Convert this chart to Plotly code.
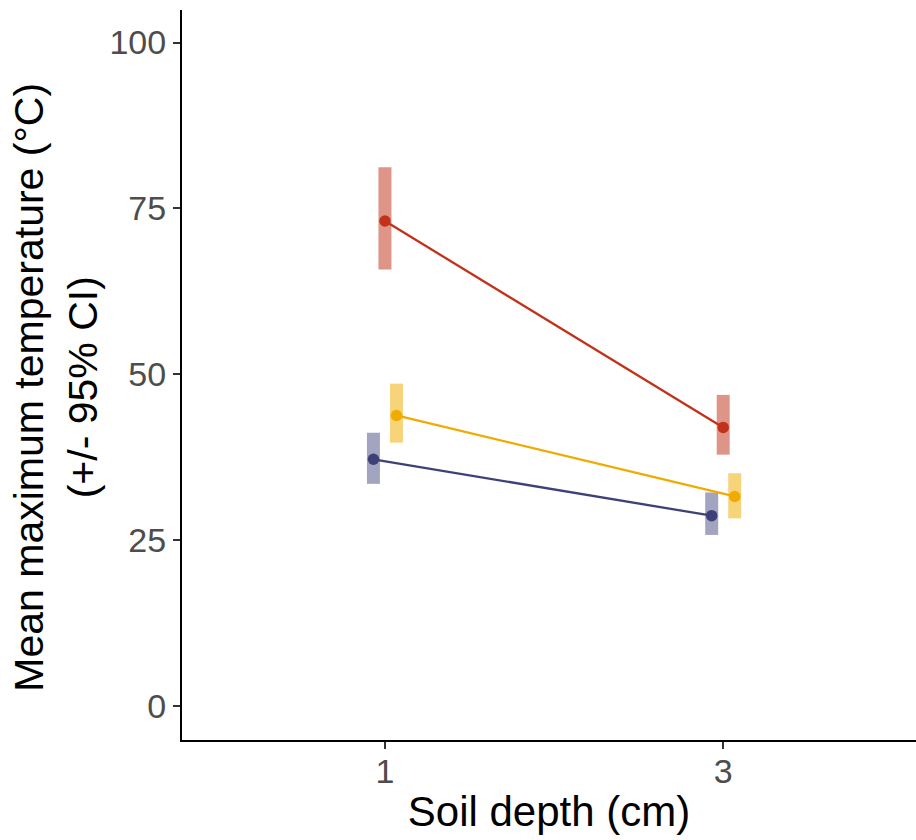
import plotly.graph_objects as go

# Soil depth categories and treatment means with 95% CI bounds
depths = ["1", "3"]
groups = ["blue", "red", "yellow"]
means = {
    "blue": [37.2, 28.7],
    "red": [73.1, 42.0],
    "yellow": [43.8, 31.6],
}
ci_low = {
    "blue": [33.5, 25.8],
    "red": [65.8, 37.9],
    "yellow": [39.7, 28.3],
}
ci_high = {
    "blue": [41.2, 32.2],
    "red": [81.2, 46.9],
    "yellow": [48.6, 35.1],
}

point_colors = {"blue": "#3F4079", "red": "#C2321A", "yellow": "#F0AA00"}
bar_colors = {
    "blue": "rgba(63,64,121,0.48)",
    "red": "rgba(194,50,26,0.52)",
    "yellow": "rgba(240,170,0,0.52)",
}
dodge = {"blue": -0.034, "red": 0.0, "yellow": 0.034}

fig = go.Figure()
base_pos = list(range(1, len(depths) + 1))
for g in groups:
    xs = [p + dodge[g] for p in base_pos]
    ys = means[g]
    # CI bands drawn as thick error bars
    fig.add_trace(go.Scatter(
        x=xs, y=ys, mode="markers",
        marker=dict(size=0.1, color="rgba(0,0,0,0)"),
        error_y=dict(
            type="data", symmetric=False,
            array=[h - m for h, m in zip(ci_high[g], ys)],
            arrayminus=[m - l for m, l in zip(ys, ci_low[g])],
            thickness=13, width=0, color=bar_colors[g],
        ),
        showlegend=False, hoverinfo="skip",
    ))
for g in groups:
    xs = [p + dodge[g] for p in base_pos]
    fig.add_trace(go.Scatter(
        x=xs, y=means[g], mode="lines+markers",
        line=dict(color=point_colors[g], width=2.3),
        marker=dict(size=11.5, color=point_colors[g]),
        showlegend=False, name=g,
    ))

fig.update_layout(
    width=916, height=840,
    margin=dict(l=182, r=0, t=10, b=100),
    plot_bgcolor="white", paper_bgcolor="white",
    font=dict(family="Liberation Sans, Arial, sans-serif"),
)
fig.update_xaxes(
    range=[0.4, 2.57],
    tickmode="array", tickvals=base_pos, ticktext=depths,
    showgrid=False, zeroline=False,
    showline=True, linecolor="black", linewidth=2,
    ticks="outside", ticklen=7, tickwidth=2, tickcolor="#333333",
    tickfont=dict(size=34, color="#4D4D4D"), ticklabelstandoff=-7,
    title=dict(text="Soil depth (cm)", font=dict(size=42, color="black"), standoff=8),
)
fig.update_yaxes(
    range=[-5.1, 104.9],
    tickmode="array", tickvals=[0, 25, 50, 75, 100],
    showgrid=False, zeroline=False,
    showline=True, linecolor="black", linewidth=2,
    ticks="outside", ticklen=7, tickwidth=2, tickcolor="#333333",
    tickfont=dict(size=34, color="#4D4D4D"),
)

# Two-line y-axis title, placed as a rotated annotation
fig.add_annotation(
    text="Mean maximum temperature (°C)<br>(+/- 95% CI)",
    xref="paper", yref="paper", x=-0.1717, y=0.484,
    xanchor="center", yanchor="middle", textangle=-90,
    showarrow=False, font=dict(size=41, color="black"),
)

fig.write_html("out.html")
